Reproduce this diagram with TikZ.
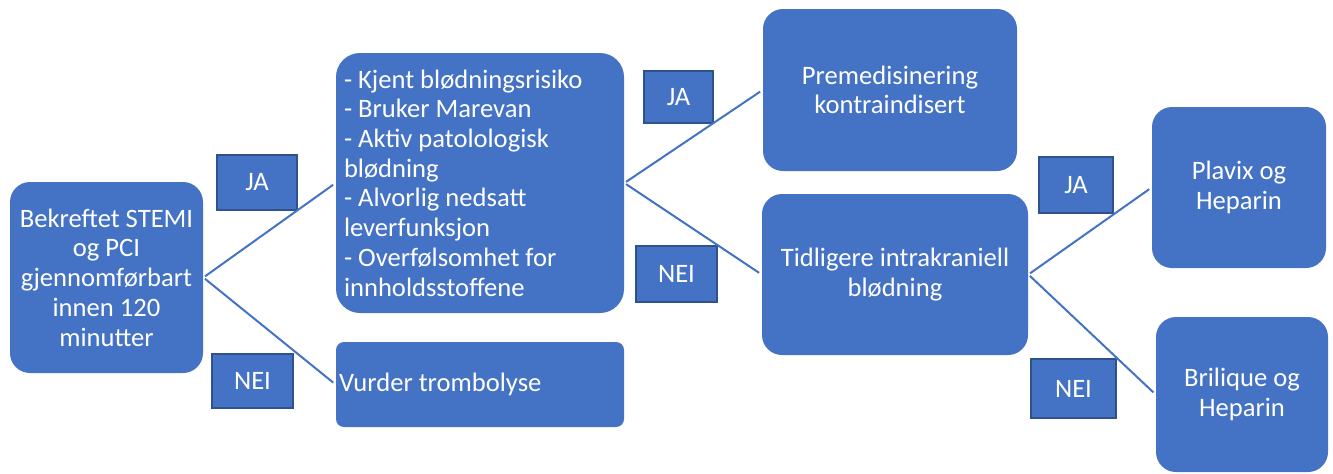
\documentclass[tikz,border=0pt]{standalone}
\usepackage{fontspec}
\setmainfont{Carlito}
\usetikzlibrary{calc}
\definecolor{boxblue}{HTML}{4472C4}
\definecolor{rimblue}{HTML}{2F528F}

\begin{document}
\begin{tikzpicture}[x=0.5pt,y=-0.5pt,
    box/.style={fill=boxblue,text=white,rounded corners=10pt,align=center,inner sep=2pt,font=\fontsize{13.3}{14.85}\selectfont},
    listbox/.style={box,align=left,execute at begin node={\spaceskip=0pt\xspaceskip=0pt}},
    answer/.style={fill=boxblue,draw=rimblue,line width=1.2pt,text=white,inner sep=1pt,font=\fontsize{13.3}{14.85}\selectfont},
    link/.style={draw=boxblue,line width=1pt,shorten <=1pt,shorten >=1.5pt}]
      \useasboundingbox (0,0) rectangle (1333,473);

      \node[box,minimum width=96.5pt,minimum height=95.5pt] (stemi) at (106.5,277.5) {Bekreftet STEMI\\og PCI\\gjennomførbart\\innen 120\\minutter};
      \node[listbox,rounded corners=12pt,minimum width=144pt,minimum height=130pt,text width=136pt,inner xsep=4pt] (risk) at (480,183) {- Kjent blødningsrisiko\\- Bruker Marevan\\- Aktiv patolologisk\\blødning\\- Alvorlig nedsatt\\leverfunksjon\\- Overfølsomhet for\\innholdsstoffene};
      \node[listbox,rounded corners=4pt,minimum width=144pt,minimum height=42.5pt,text width=141pt,inner xsep=1.5pt] (tromb) at (480,384.5) {Vurder trombolyse};
      \node[box,minimum width=127pt,minimum height=81pt] (premed) at (890,90) {Premedisinering\\kontraindisert};
      \node[box,minimum width=133pt,minimum height=80.5pt] (ich) at (895,274.5) {Tidligere intrakraniell\\blødning};
      \node[box,minimum width=87pt,minimum height=80.5pt] (plavix) at (1239,187.5) {Plavix og\\Heparin};
      \node[box,minimum width=86pt,minimum height=77.5pt] (brilique) at (1242,394.5) {Brilique og\\Heparin};

      \node[answer,minimum width=40pt,minimum height=27.5pt] (ja1) at (257,182.5) {JA};
      \node[answer,minimum width=40.5pt,minimum height=27pt] (nei1) at (252.5,381) {NEI};
      \node[answer,minimum width=34.5pt,minimum height=26pt] (ja2) at (678.5,97) {JA};
      \node[answer,minimum width=40.5pt,minimum height=28pt] (nei2) at (676.5,274) {NEI};
      \node[answer,minimum width=37pt,minimum height=28pt] (ja3) at (1076,185) {JA};
      \node[answer,minimum width=42.5pt,minimum height=29.5pt] (nei3) at (1073.5,388.5) {NEI};

      \draw[link] (stemi.east) edge (risk.west) edge (tromb.west);
      \draw[link] (risk.east) edge (premed.west) edge (ich.west);
      \draw[link] (ich.east) edge (plavix.west) edge (brilique.west);
    \end{tikzpicture}
\end{document}
